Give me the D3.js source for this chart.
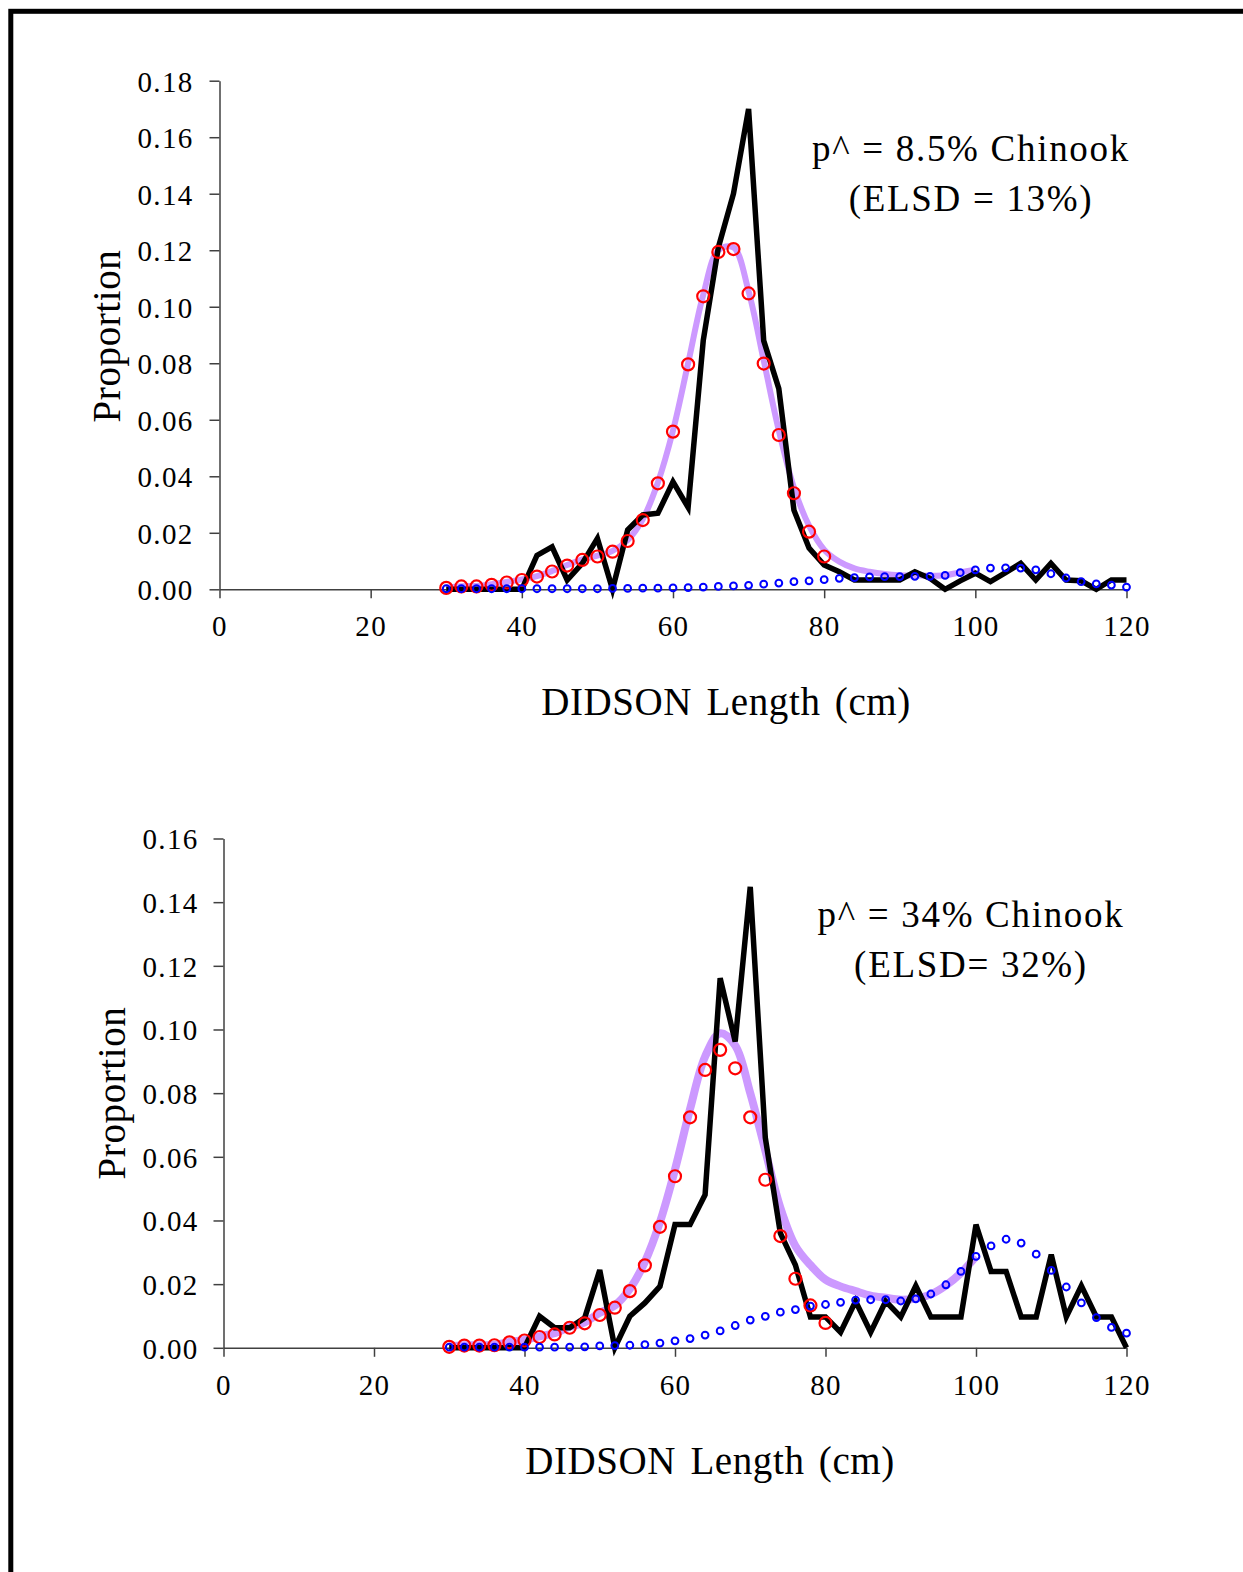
<!DOCTYPE html>
<html>
<head>
<meta charset="utf-8">
<script src="https://cdn.jsdelivr.net/npm/d3@7"></script>
<style>
    body { margin: 0; background: #fff; }
    svg { display: block; }
    .axis path, .axis line { stroke: #404040; stroke-width: 1.5; }
    .axis text { font-family: 'Liberation Serif', 'Times New Roman', serif; font-size: 29px; letter-spacing: 1.3px; fill: #000; }
</style>
</head>
<body>
<div id="chart-area"></div>
<script>

// DATA
// =================

// length classes (cm)
var lengths = [30, 32, 34, 36, 38, 40, 42, 44, 46, 48, 50, 52, 54, 56, 58, 60,
    62, 64, 66, 68, 70, 72, 74, 76, 78, 80, 82, 84, 86, 88, 90, 92, 94, 96, 98,
    100, 102, 104, 106, 108, 110, 112, 114, 116, 118, 120];

var xTicks = [0, 20, 40, 60, 80, 100, 120];
var yTicksTop = [0, 0.02, 0.04, 0.06, 0.08, 0.10, 0.12, 0.14, 0.16, 0.18];
var yTicksBottom = [0, 0.02, 0.04, 0.06, 0.08, 0.10, 0.12, 0.14, 0.16];

// top panel: observed (black), chinook (red, 30-80), other (blue), fit (purple, 30-100)
var observedTop = [0, 0, 0, 0, 0, 0, 0.012, 0.015, 0.0033, 0.0092, 0.018, 0,
    0.021, 0.0263, 0.0269, 0.038, 0.029, 0.088, 0.121, 0.140, 0.170, 0.088,
    0.071, 0.028, 0.0146, 0.0086, 0.0062, 0.0033, 0.0033, 0.0033, 0.0033,
    0.0062, 0.0039, 0, 0.003, 0.0057, 0.0027, 0.0059, 0.0092, 0.0033, 0.0092,
    0.0033, 0.003, 0, 0.0033, 0.0033];
var chinookTop = [0.0005, 0.001, 0.001, 0.0016, 0.0024, 0.0033, 0.0045, 0.0063,
    0.0084, 0.0104, 0.0116, 0.0133, 0.0171, 0.0245, 0.0375, 0.0558, 0.0796,
    0.1037, 0.1194, 0.1204, 0.1047, 0.0799, 0.0546, 0.034, 0.0204, 0.0116];
var otherTop = [0.0002, 0.0002, 0.0002, 0.0002, 0.0002, 0.0002, 0.0002, 0.0002,
    0.0002, 0.0002, 0.0002, 0.0003, 0.0003, 0.0004, 0.0004, 0.0005, 0.0006,
    0.0008, 0.001, 0.0012, 0.0014, 0.0018, 0.0022, 0.0027, 0.003, 0.0034,
    0.0039, 0.0041, 0.0044, 0.0045, 0.0045, 0.0046, 0.0046, 0.0049, 0.0059,
    0.0069, 0.0075, 0.0076, 0.0075, 0.0069, 0.0055, 0.004, 0.0027, 0.0019,
    0.0015, 0.0008];
var fitTop = [0.0006, 0.0011, 0.0012, 0.0018, 0.0026, 0.0035, 0.0047, 0.0065,
    0.0086, 0.0106, 0.0119, 0.0136, 0.0174, 0.0248, 0.0378, 0.0562, 0.08,
    0.1042, 0.12, 0.121, 0.1055, 0.081, 0.0562, 0.036, 0.0225, 0.014, 0.0098,
    0.0074, 0.0062, 0.0054, 0.005, 0.0049, 0.0048, 0.005, 0.006, 0.0069];

// bottom panel
var observedBottom = [0, 0, 0, 0, 0, 0, 0.0099, 0.0063, 0.0063, 0.0094, 0.0244,
    0, 0.0099, 0.0141, 0.0193, 0.0387, 0.0387, 0.0481, 0.1161, 0.0962, 0.1448,
    0.066, 0.036, 0.026, 0.0097, 0.0097, 0.0049, 0.0146, 0.0049, 0.0146, 0.0097,
    0.0195, 0.0097, 0.0097, 0.0097, 0.0387, 0.024, 0.024, 0.0097, 0.0097, 0.0293,
    0.0097, 0.0195, 0.0097, 0.0097, 0];
var chinookBottom = [0.0003, 0.0007, 0.0007, 0.0008, 0.0017, 0.0023, 0.0034,
    0.0042, 0.0063, 0.0077, 0.0103, 0.0126, 0.0178, 0.0259, 0.038, 0.0539,
    0.0724, 0.0873, 0.0936, 0.0878, 0.0724, 0.0528, 0.0351, 0.0217, 0.0133,
    0.0078];
var otherBottom = [0.0002, 0.0002, 0.0002, 0.0002, 0.0002, 0.0002, 0.0002,
    0.0002, 0.0002, 0.0003, 0.0006, 0.0007, 0.0008, 0.001, 0.0015, 0.0022,
    0.0029, 0.004, 0.0053, 0.007, 0.0087, 0.0099, 0.0112, 0.012, 0.0131, 0.0136,
    0.0143, 0.015, 0.0151, 0.0151, 0.0147, 0.0154, 0.0169, 0.0198, 0.024, 0.0287,
    0.032, 0.0341, 0.0329, 0.0294, 0.0243, 0.0191, 0.0141, 0.0095, 0.0064,
    0.0046];
var fitBottom = [0.0004, 0.0008, 0.0008, 0.001, 0.0018, 0.0025, 0.0036, 0.0046,
    0.0066, 0.008, 0.011, 0.0133, 0.0185, 0.027, 0.0395, 0.056, 0.075, 0.0915,
    0.0988, 0.095, 0.08, 0.062, 0.044, 0.032, 0.026, 0.0214, 0.0193, 0.0178,
    0.0164, 0.0157, 0.0151, 0.0155, 0.0168, 0.0196, 0.0235, 0.0287];

var titlesTop = ['p^ = 8.5% Chinook', '(ELSD = 13%)'];
var titlesBottom = ['p^ = 34% Chinook', '(ELSD= 32%)'];

// CANVAS
// =================

var svg = d3.select('#chart-area')
    .append('svg')
        .attr('width', 1243)
        .attr('height', 1572);

svg.append('rect')
    .attr('width', 1243)
    .attr('height', 1572)
    .attr('fill', '#fff');

// outer frame (right/bottom edges are off the picture)
svg.append('rect')
    .attr('x', 10.8)
    .attr('y', 11.3)
    .attr('width', 1300)
    .attr('height', 1700)
    .attr('fill', 'none')
    .attr('stroke', '#000')
    .attr('stroke-width', 5);

// PANELS
// =================

function drawPanel(p) {
    var x, y, g, lineObs, lineFit;

    x = d3.scaleLinear().domain([0, 120]).range(p.xRange);
    y = d3.scaleLinear().domain([0, p.yMax]).range(p.yRange);

    g = svg.append('g');

    // axes
    g.append('g')
        .attr('class', 'axis')
        .attr('transform', 'translate(0,' + p.yRange[0] + ')')
        .call(d3.axisBottom(x).tickValues(xTicks).tickSize(9).tickSizeOuter(0))
        .selectAll('text')
            .attr('y', 47)
            .attr('dy', 0);

    g.append('g')
        .attr('class', 'axis')
        .attr('transform', 'translate(' + p.xRange[0] + ',0)')
        .call(d3.axisLeft(y).tickValues(p.yTicks).tickSize(10).tickSizeOuter(0)
            .tickPadding(p.labelPad).tickFormat(d3.format('.2f')))
        .selectAll('text')
            .attr('dy', '0.36em');

    lineObs = d3.line()
        .x((d, i) => x(lengths[i]))
        .y(d => y(d));

    lineFit = d3.line()
        .x((d, i) => x(lengths[i]))
        .y(d => y(d))
        .curve(d3.curveCatmullRom.alpha(0.5));

    // fitted mixture
    g.append('path')
        .datum(p.fit)
        .attr('d', lineFit)
        .attr('fill', 'none')
        .attr('stroke', '#cc99ff')
        .attr('stroke-width', p.fitWidth);

    // observed
    g.append('path')
        .datum(p.observed)
        .attr('d', lineObs)
        .attr('fill', 'none')
        .attr('stroke', '#000')
        .attr('stroke-width', 5.5);

    // chinook component
    g.selectAll('circle.chin')
        .data(p.chinook)
        .enter()
        .append('circle')
        .attr('class', 'chin')
        .attr('cx', (d, i) => x(lengths[i]))
        .attr('cy', d => y(d))
        .attr('r', 6)
        .attr('fill', 'none')
        .attr('stroke', '#ff0000')
        .attr('stroke-width', 2.2);

    // other species component
    g.selectAll('circle.oth')
        .data(p.other)
        .enter()
        .append('circle')
        .attr('class', 'oth')
        .attr('cx', (d, i) => x(lengths[i]))
        .attr('cy', d => y(d))
        .attr('r', 3.4)
        .attr('fill', 'none')
        .attr('stroke', '#0000ff')
        .attr('stroke-width', 2);

    // labels
    g.append('text')
        .attr('x', p.xLabel[0])
        .attr('y', p.xLabel[1])
        .attr('text-anchor', 'middle')
        .attr('font-family', 'Liberation Serif, serif')
        .attr('font-size', '39px')
        .attr('letter-spacing', '0.6px')
        .attr('word-spacing', '4px')
        .text('DIDSON Length (cm)');

    g.append('text')
        .attr('transform', 'translate(' + p.yLabel[0] + ',' + p.yLabel[1] + ') rotate(-90)')
        .attr('text-anchor', 'middle')
        .attr('font-family', 'Liberation Serif, serif')
        .attr('font-size', '39px')
        .attr('letter-spacing', '0.6px')
        .text('Proportion');

    g.selectAll('text.title')
        .data(p.titles)
        .enter()
        .append('text')
        .attr('class', 'title')
        .attr('x', 971)
        .attr('y', (d, i) => p.titleY + i * 50)
        .attr('text-anchor', 'middle')
        .attr('font-family', 'Liberation Serif, serif')
        .attr('font-size', '37px')
        .attr('letter-spacing', '1.7px')
        .text(d => d);
}

drawPanel({
    xRange: [219.5, 1126.5],
    yRange: [589.3, 80.7],
    yMax: 0.18,
    yTicks: yTicksTop,
    labelPad: 16,
    observed: observedTop,
    chinook: chinookTop,
    other: otherTop,
    fit: fitTop,
    fitWidth: 6,
    titles: titlesTop,
    titleY: 161,
    xLabel: [726, 715],
    yLabel: [120, 336]
});

drawPanel({
    xRange: [223.5, 1126.5],
    yRange: [1347.8, 838.5],
    yMax: 0.16,
    yTicks: yTicksBottom,
    labelPad: 15,
    observed: observedBottom,
    chinook: chinookBottom,
    other: otherBottom,
    fit: fitBottom,
    fitWidth: 8,
    titles: titlesBottom,
    titleY: 927,
    xLabel: [710, 1474],
    yLabel: [125, 1093]
});

</script>
</body>
</html>
